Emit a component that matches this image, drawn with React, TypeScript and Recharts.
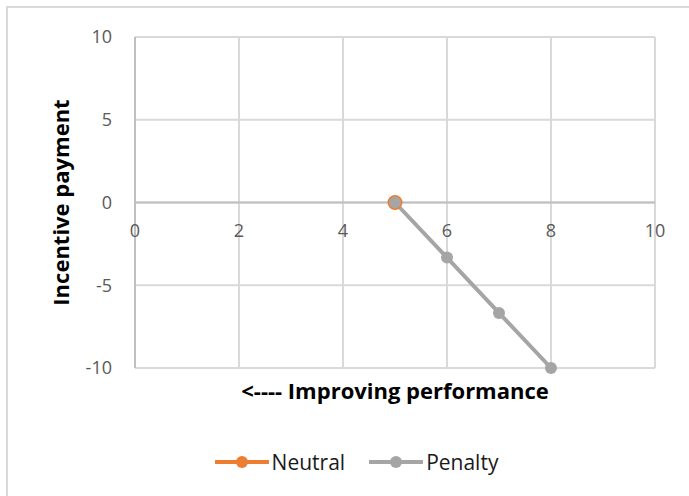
import { LineChart, Line, XAxis, YAxis, CartesianGrid, ReferenceLine, Legend } from 'recharts';

const xTicks = [0, 2, 4, 6, 8, 10];
const yTicks = [-10, -5, 0, 5, 10];

const neutralX = [5];
const neutralY = [0];
const penaltyX = [5, 6, 7, 8];
const penaltyY = [0, -3.33, -6.67, -10];

const neutralData = neutralX.map((x, i) => ({ x, y: neutralY[i] }));
const penaltyData = penaltyX.map((x, i) => ({ x, y: penaltyY[i] }));

const FONT = 'Open Sans, sans-serif';
const TICK_COLOR = '#595959';

// plot is 331px tall, the 0 line sits half way up
const HALF_PLOT = 165.5;

function XTick({ x, y, payload }: any) {
  return (
    <text x={x} y={y - HALF_PLOT + 14} dy="0.71em" textAnchor="middle" fill={TICK_COLOR} fontSize={18} fontFamily={FONT}>
      {payload.value}
    </text>
  );
}

function LegendContent({ payload }: any) {
  return (
    <div style={{ display: 'flex', justifyContent: 'center', gap: 24, paddingLeft: 24, fontFamily: FONT, fontSize: 21, color: '#1a1a1a' }}>
      {payload.map((p: any) => (
        <div key={p.value} style={{ display: 'flex', alignItems: 'center' }}>
          <svg width={54} height={16} style={{ marginRight: 3 }}>
            <line x1={1} y1={8} x2={53} y2={8} stroke={p.color} strokeWidth={4} strokeLinecap="round" />
            <circle cx={27} cy={8} r={6} fill={p.color} />
          </svg>
          <span>{p.value}</span>
        </div>
      ))}
    </div>
  );
}

export default function App() {
  return (
    <div style={{ position: 'absolute', left: 0, top: 0, width: 689, height: 496, background: '#fff', overflow: 'hidden' }}>
      <div style={{ position: 'absolute', left: 6, top: 6, width: 700, height: 520, border: '2px solid #d9d9d9' }} />
      <div style={{ position: 'absolute', left: 0, top: 0 }}>
        <LineChart width={689} height={496} margin={{ top: 37, right: 34, bottom: 98, left: 0 }}>
          <CartesianGrid stroke="#d9d9d9" strokeWidth={2} />
          <XAxis
            type="number"
            dataKey="x"
            domain={[0, 10]}
            ticks={xTicks}
            axisLine={false}
            tickLine={false}
            height={30}
            tick={<XTick />}
            label={({ viewBox }: any) => (
              <text x={viewBox.x + viewBox.width / 2} y={390} textAnchor="middle" dominantBaseline="central" fontFamily={FONT} fontWeight="bold" fontSize={22} fill="#000">
                {'<---- Improving performance'}
              </text>
            )}
          />
          <YAxis
            type="number"
            dataKey="y"
            domain={[-10, 10]}
            ticks={yTicks}
            width={135}
            axisLine={{ stroke: '#bfbfbf', strokeWidth: 2 }}
            tickLine={false}
            tickMargin={17}
            tick={{ fill: TICK_COLOR, fontSize: 18, fontFamily: FONT }}
            label={({ viewBox }: any) => (
              <text x={60} y={viewBox.y + viewBox.height / 2} transform={`rotate(-90, 60, ${viewBox.y + viewBox.height / 2})`} textAnchor="middle" dominantBaseline="central" fontFamily={FONT} fontWeight="bold" fontSize={22} fill="#000">
                Incentive payment
              </text>
            )}
          />
          <ReferenceLine y={0} stroke="#bfbfbf" strokeWidth={2} />
          <Legend layout="horizontal" verticalAlign="middle" align="center" wrapperStyle={{ top: 448, left: 0, width: 689 }} content={<LegendContent />} />
          <Line data={neutralData} dataKey="y" name="Neutral" stroke="#ed7d31" strokeWidth={4} dot={{ r: 7.5, fill: '#ed7d31', stroke: 'none' }} isAnimationActive={false} />
          <Line data={penaltyData} dataKey="y" name="Penalty" stroke="#a5a5a5" strokeWidth={4} dot={{ r: 6, fill: '#a5a5a5', stroke: 'none' }} isAnimationActive={false} />
        </LineChart>
      </div>
    </div>
  );
}
